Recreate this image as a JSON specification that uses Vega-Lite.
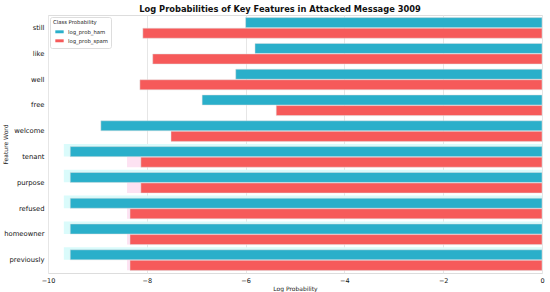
{
  "$schema": "https://vega.github.io/schema/vega-lite/v6.json",
  "autosize": {"type": "none"},
  "width": 494,
  "height": 258,
  "padding": {"left": 48, "top": 15, "right": 8, "bottom": 19},
  "title": {"text": "Log Probabilities of Key Features in Attacked Message 3009", "font": "DejaVu Sans", "fontSize": 8.3, "fontWeight": "bold", "color": "#111", "offset": 2, "anchor": "middle", "dx": -15},
  "datasets": {
    "main": [
      {"word": "still", "cls": "log_prob_ham", "v": -6.0},
      {"word": "still", "cls": "log_prob_spam", "v": -8.08},
      {"word": "like", "cls": "log_prob_ham", "v": -5.81},
      {"word": "like", "cls": "log_prob_spam", "v": -7.88},
      {"word": "well", "cls": "log_prob_ham", "v": -6.2},
      {"word": "well", "cls": "log_prob_spam", "v": -8.14},
      {"word": "free", "cls": "log_prob_ham", "v": -6.88},
      {"word": "free", "cls": "log_prob_spam", "v": -5.38},
      {"word": "welcome", "cls": "log_prob_ham", "v": -8.93},
      {"word": "welcome", "cls": "log_prob_spam", "v": -7.51},
      {"word": "tenant", "cls": "log_prob_ham", "v": -9.55},
      {"word": "tenant", "cls": "log_prob_spam", "v": -8.12},
      {"word": "purpose", "cls": "log_prob_ham", "v": -9.55},
      {"word": "purpose", "cls": "log_prob_spam", "v": -8.12},
      {"word": "refused", "cls": "log_prob_ham", "v": -9.55},
      {"word": "refused", "cls": "log_prob_spam", "v": -8.34},
      {"word": "homeowner", "cls": "log_prob_ham", "v": -9.55},
      {"word": "homeowner", "cls": "log_prob_spam", "v": -8.34},
      {"word": "previously", "cls": "log_prob_ham", "v": -9.55},
      {"word": "previously", "cls": "log_prob_spam", "v": -8.34}
    ],
    "ghost": [
      {"word": "tenant", "cls": "log_prob_ham", "v": -9.68},
      {"word": "tenant", "cls": "log_prob_spam", "v": -8.4},
      {"word": "purpose", "cls": "log_prob_ham", "v": -9.68},
      {"word": "purpose", "cls": "log_prob_spam", "v": -8.4},
      {"word": "refused", "cls": "log_prob_ham", "v": -9.68},
      {"word": "refused", "cls": "log_prob_spam", "v": -8.4},
      {"word": "homeowner", "cls": "log_prob_ham", "v": -9.68},
      {"word": "homeowner", "cls": "log_prob_spam", "v": -8.4},
      {"word": "previously", "cls": "log_prob_ham", "v": -9.68},
      {"word": "previously", "cls": "log_prob_spam", "v": -8.4}
    ]
  },
  "encoding": {
    "y": {"field": "word", "type": "nominal", "sort": ["still","like","well","free","welcome","tenant","purpose","refused","homeowner","previously"],
      "scale": {"paddingInner": 0.2, "paddingOuter": 0.1},
      "axis": {"title": "Feature Word", "titleFont": "DejaVu Sans", "titleFontSize": 6, "titleFontWeight": "normal", "titleColor": "#222", "titleX": -40, "titleY": 129, "titleAngle": -90, "titleAlign": "center", "titleBaseline": "bottom", "labelFont": "DejaVu Sans", "labelFontSize": 6.8, "labelColor": "#111", "ticks": false, "domain": false, "labelPadding": 4}},
    "yOffset": {"field": "cls", "type": "nominal", "scale": {"paddingInner": 0.05}},
    "x": {"field": "v", "type": "quantitative", "scale": {"domain": [-10, 0], "nice": false},
      "axis": {"title": "Log Probability", "titleFont": "DejaVu Sans", "titleFontSize": 6, "titleFontWeight": "normal", "titleColor": "#222", "labelFont": "DejaVu Sans", "labelFontSize": 6.5, "labelColor": "#111", "values": [-10,-8,-6,-4,-2,0], "ticks": false, "domain": false, "labelPadding": 4, "titlePadding": 2, "labelExpr": "replace(datum.label, '-', '\u2212')", "gridColor": "#e6e6e6", "labelFlush": false}}
  },
  "layer": [
    {
      "data": {"name": "ghost"},
      "transform": [{"filter": "datum.cls == 'log_prob_ham'"}],
      "mark": {"type": "bar", "color": "#dafbfb", "height": {"band": 1.25}},
      "encoding": {}
    },
    {
      "data": {"name": "ghost"},
      "transform": [{"filter": "datum.cls == 'log_prob_spam'"}],
      "mark": {"type": "bar", "color": "#fde2f2", "height": {"band": 1.25}},
      "encoding": {}
    },
    {
      "data": {"name": "main"},
      "mark": {"type": "bar", "stroke": "#e0e0e0", "strokeWidth": 0.5},
      "encoding": {
        "color": {"field": "cls", "type": "nominal", "scale": {"domain": ["log_prob_ham","log_prob_spam"], "range": ["#2aafca","#f65a5a"]},
          "legend": {"title": "Class Probability", "orient": "top-left", "offset": 2, "titleFont": "DejaVu Sans", "titleFontSize": 5.3, "titleFontWeight": "normal", "titleColor": "#222", "labelFont": "DejaVu Sans", "labelFontSize": 5.3, "labelColor": "#222", "symbolType": "M-1,-0.35H1V0.35H-1Z", "symbolSize": 70, "symbolStrokeWidth": 0, "fillColor": "rgba(255,255,255,0.9)", "strokeColor": "#dddddd", "padding": 3, "cornerRadius": 2, "rowPadding": 1, "titlePadding": 2, "symbolOffset": 2}}
      }
    }
  ],
  "config": {"view": {"stroke": "#dddddd"}, "background": "white"}
}
